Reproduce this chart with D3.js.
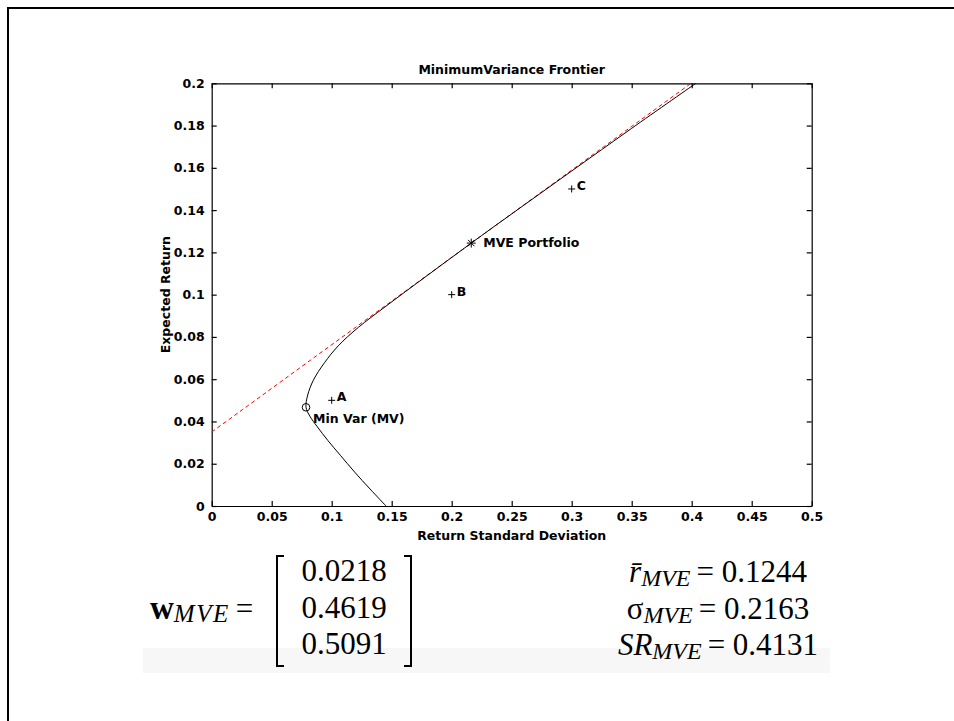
<!DOCTYPE html>
<html>
<head>
<meta charset="utf-8">
<script src="https://cdn.jsdelivr.net/npm/d3@7"></script>
<style>
  body { margin: 0; background: #fff; }
  .axis text { font-family: "DejaVu Sans", sans-serif; font-weight: bold; font-size: 12.5px; fill: #000; }
  .axis path, .axis line { stroke: #000; stroke-width: 1.2; }
  .lbl { font-family: "DejaVu Sans", sans-serif; font-weight: bold; font-size: 12.5px; fill: #000; }
  .tex { font-family: "Liberation Serif", "Times New Roman", serif; font-size: 31px; fill: #000; }
</style>
</head>
<body>
<div id="chart"></div>
<script>
// values
const xTicks = [0, 0.05, 0.1, 0.15, 0.2, 0.25, 0.3, 0.35, 0.4, 0.45, 0.5];
const yTicks = [0, 0.02, 0.04, 0.06, 0.08, 0.1, 0.12, 0.14, 0.16, 0.18, 0.2];

// minimum variance frontier (std dev, expected return)
const frontierSigma = [0.1453, 0.1320, 0.1192, 0.1072, 0.0968, 0.0880, 0.0818, 0.0786, 0.0800, 0.0847, 0.0940, 0.1055, 0.1222, 0.1444, 0.1800, 0.2163, 0.2500, 0.3000, 0.3500, 0.4035];
const frontierMu    = [0.0000, 0.0080, 0.0160, 0.0240, 0.0310, 0.0375, 0.0425, 0.0467, 0.0525, 0.0595, 0.0678, 0.0758, 0.0845, 0.0942, 0.1092, 0.1244, 0.1382, 0.1585, 0.1787, 0.2000];

// tangent (capital market) line
const cmlSigma = [0, 0.3994];
const cmlMu = [0.035, 0.2];

const assetNames = ["A", "B", "C"];
const assetSigma = [0.1, 0.2, 0.3];
const assetMu = [0.05, 0.1, 0.15];

const mveSigma = 0.2163, mveMu = 0.1244;
const mvSigma = 0.0786, mvMu = 0.0467;

const weights = ["0.0218", "0.4619", "0.5091"];
const statValues = ["0.1244", "0.2163", "0.4131"];

let width = 954, height = 721;

let svg = d3.select("#chart")
    .append("svg")
    .attr("width", width)
    .attr("height", height);

// page frame (top + left edge)
svg.append("path")
    .attr("d", "M8,721 L8,8 L954,8")
    .attr("fill", "none")
    .attr("stroke", "#000")
    .attr("stroke-width", 2);

// scales
let x = d3.scaleLinear().domain([0, 0.5]).range([211.7, 811.7]);
let y = d3.scaleLinear().domain([0, 0.2]).range([506, 83.3]);

const fmt = d => String(+d.toFixed(2));

// bottom + left axes with labels, ticks pointing inward
svg.append("g")
    .attr("class", "axis")
    .attr("transform", `translate(0, ${y(0)})`)
    .call(d3.axisBottom(x).tickValues(xTicks).tickFormat(fmt).tickSizeInner(-5).tickSizeOuter(0).tickPadding(6));

svg.append("g")
    .attr("class", "axis")
    .attr("transform", `translate(${x(0)}, 0)`)
    .call(d3.axisLeft(y).tickValues(yTicks).tickFormat(fmt).tickSizeInner(-5).tickSizeOuter(0).tickPadding(7));

// top + right box edges
svg.append("g")
    .attr("class", "axis")
    .attr("transform", `translate(0, ${y(0.2)})`)
    .call(d3.axisTop(x).tickValues(xTicks).tickFormat("").tickSizeInner(-5).tickSizeOuter(0));

svg.append("g")
    .attr("class", "axis")
    .attr("transform", `translate(${x(0.5)}, 0)`)
    .call(d3.axisRight(y).tickValues(yTicks).tickFormat("").tickSizeInner(-5).tickSizeOuter(0));

// titles
svg.append("text").attr("class", "lbl")
    .attr("x", x(0.25)).attr("y", 74)
    .style("text-anchor", "middle")
    .text("MinimumVariance Frontier");

svg.append("text").attr("class", "lbl")
    .attr("x", x(0.25)).attr("y", 540)
    .style("text-anchor", "middle")
    .text("Return Standard Deviation");

svg.append("text").attr("class", "lbl")
    .attr("transform", `translate(170, ${y(0.1)}) rotate(-90)`)
    .style("text-anchor", "middle")
    .text("Expected Return");

// tangent line
let cml = cmlSigma.map((s, i) => [s, cmlMu[i]]);
svg.append("path")
    .datum(cml)
    .attr("d", d3.line().x(d => x(d[0])).y(d => y(d[1])))
    .attr("fill", "none")
    .attr("stroke", "#ff0000")
    .attr("stroke-width", 1)
    .attr("stroke-dasharray", "4,3");

// frontier
let frontier = frontierSigma.map((s, i) => [s, frontierMu[i]]);
svg.append("path")
    .datum(frontier)
    .attr("d", d3.line().x(d => x(d[0])).y(d => y(d[1])).curve(d3.curveCatmullRom.alpha(0.5)))
    .attr("fill", "none")
    .attr("stroke", "#000")
    .attr("stroke-width", 1);

// assets
assetNames.forEach((name, i) => {
    let px = x(assetSigma[i]), py = y(assetMu[i]);
    svg.append("path")
        .attr("d", `M${px - 3.5},${py} H${px + 3.5} M${px},${py - 3.5} V${py + 3.5}`)
        .attr("stroke", "#000").attr("stroke-width", 1);
    svg.append("text").attr("class", "lbl")
        .attr("x", px + 5).attr("y", py + 1)
        .text(name);
});

// MVE portfolio (asterisk)
{
    let px = x(mveSigma), py = y(mveMu), r = 4.5;
    let d = `M${px - r},${py} H${px + r} M${px},${py - r} V${py + r}` +
        `M${px - r * 0.7},${py - r * 0.7} L${px + r * 0.7},${py + r * 0.7}` +
        `M${px - r * 0.7},${py + r * 0.7} L${px + r * 0.7},${py - r * 0.7}`;
    svg.append("path").attr("d", d).attr("stroke", "#000").attr("stroke-width", 1);
    svg.append("text").attr("class", "lbl")
        .attr("x", px + 12).attr("y", py + 4)
        .text("MVE Portfolio");
}

// minimum variance portfolio (circle)
svg.append("circle")
    .attr("cx", x(mvSigma)).attr("cy", y(mvMu)).attr("r", 3.8)
    .attr("fill", "none").attr("stroke", "#000").attr("stroke-width", 1);
svg.append("text").attr("class", "lbl")
    .attr("x", x(mvSigma) + 7).attr("y", y(mvMu) + 16)
    .text("Min Var (MV)");

// ---- formulas underneath ----
svg.append("rect")
    .attr("x", 143).attr("y", 648).attr("width", 687).attr("height", 25)
    .attr("fill", "#f7f7f7");

let wEq = svg.append("text").attr("class", "tex").attr("x", 150).attr("y", 619);
wEq.append("tspan").style("font-weight", "bold").style("font-size", "33px").text("w");
wEq.append("tspan").style("font-style", "italic").style("font-size", "25px")
    .style("letter-spacing", "1.5px").attr("dy", 3).text("MVE");
wEq.append("tspan").attr("dy", -3).attr("dx", 6).text("=");

// brackets
svg.append("path")
    .attr("d", "M284,556 H277 V666 H284 M404,556 H411 V666 H404")
    .attr("fill", "none").attr("stroke", "#000").attr("stroke-width", 2);

weights.forEach((w, i) => {
    svg.append("text").attr("class", "tex")
        .attr("x", 344).attr("y", 581 + i * 36.5)
        .style("text-anchor", "middle")
        .text(w);
});

const statSymbols = [["r\u0304", true], ["\u03c3", false], ["SR", true]];
statSymbols.forEach((s, i) => {
    let t = svg.append("text").attr("class", "tex")
        .attr("x", 718).attr("y", 582 + i * 36.5)
        .style("text-anchor", "middle");
    t.append("tspan").style("font-style", s[1] ? "italic" : "normal").text(s[0]);
    t.append("tspan").style("font-style", "italic").style("font-size", "24px").attr("dy", 4).text("MVE");
    t.append("tspan").attr("dy", -4).attr("dx", 6).text("= " + statValues[i]);
});
</script>
</body>
</html>
